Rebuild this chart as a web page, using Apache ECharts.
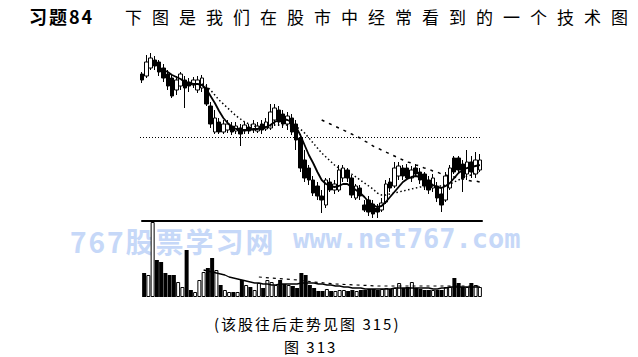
<!DOCTYPE html>
<html>
<head>
<meta charset="utf-8">
<script src="https://cdn.jsdelivr.net/npm/echarts@6/dist/echarts.min.js"></script>
<style>
  body { margin: 0; background: #fff; }
  #wrap { position: relative; width: 638px; height: 357px; overflow: hidden; }
  #chart { position: absolute; left: 0; top: 0; width: 638px; height: 357px; z-index: 2; }
  .t { position: absolute; white-space: nowrap; font-family: "Noto Sans CJK SC"; color: #000; }
  .wm { position: absolute; white-space: nowrap; color: #c6d8f8; font-weight: bold; z-index: 1; }
</style>
</head>
<body>
<div id="wrap">
  <div class="t" style="left:29px;top:3px;font-size:18px;font-weight:bold;letter-spacing:2px">习题84</div>
  <div class="t" style="left:125px;top:4px;font-size:17px;letter-spacing:10px">下图是我们在股市中经常看到的一个技术图</div>
  <div class="wm" style="left:70px;top:221px;font-size:28px;font-family:'Noto Sans CJK SC';letter-spacing:2px">767股票学习网</div>
  <div class="wm" style="left:293px;top:223px;font-size:27px;font-family:'DejaVu Sans Mono'">www.net767.com</div>
  <div class="t" style="left:214px;top:313px;font-size:15px;letter-spacing:2px">(该股往后走势见图 315)</div>
  <div class="t" style="left:284px;top:336px;font-size:15px;letter-spacing:2px">图 313</div>
  <div id="chart"></div>
</div>
<script>
// 日K线 (开, 收, 低, 高)
const opens = [18.1,17.9,18.7,19.5,19.3,18.7,18.1,17.7,16.5,16.9,
  17.5,17.3,17.0,16.5,16.7,16.7,14.9,12.3,13.3,12.3,
  12.5,12.9,12.4,12.7,12.4,12.8,12.5,12.4,13.1,12.6,
  12.7,13.5,14.5,14.1,13.1,13.7,13.1,11.7,9.5,8.7,
  7.5,6.9,5.9,5.0,7.3,6.5,6.5,7.7,8.5,7.7,
  5.7,6.7,5.0,5.5,5.1,4.7,4.5,5.3,7.3,6.9,
  7.9,8.7,8.7,7.7,8.7,8.3,8.1,7.5,6.7,6.9,
  6.1,5.5,6.7,9.7,9.7,9.1,8.1,9.3,8.1,8.5]
const closes = [17.5,19.3,19.7,18.9,18.3,17.7,16.9,15.9,17.5,18.1,
  16.7,16.9,17.5,17.5,17.7,15.1,13.1,13.7,12.3,13.1,
  13.1,12.3,12.9,12.1,13.0,12.4,13.1,12.9,12.5,13.3,
  14.3,14.7,13.3,13.1,13.9,12.3,11.5,8.7,7.7,7.5,
  6.2,5.9,5.5,7.5,6.5,7.1,8.5,8.7,7.7,6.0,
  6.9,5.9,4.5,4.3,4.1,4.3,5.2,7.1,6.7,8.7,
  8.9,7.9,7.7,8.5,8.1,7.5,6.9,6.5,7.7,5.7,
  5.0,7.9,8.7,8.3,8.5,7.7,9.3,8.3,9.5,9.5]
const lows = [17.2,17.7,18.5,18.5,17.9,17.3,16.5,15.7,16.0,16.5,
  14.7,16.3,16.7,16.2,16.3,14.9,12.7,12.1,12.1,12.1,
  12.2,12.0,12.1,10.9,12.1,12.1,12.2,12.2,12.1,12.4,
  12.5,12.9,12.9,12.7,12.5,12.0,10.5,8.3,7.3,7.0,
  5.9,5.5,4.2,4.7,6.3,6.1,6.3,7.3,7.3,5.7,
  5.5,5.5,4.3,3.9,3.7,3.7,4.3,5.1,6.3,6.7,
  7.5,7.5,7.5,7.3,7.9,7.1,6.5,6.1,6.3,5.3,
  4.3,5.3,6.5,8.1,8.1,6.3,7.5,7.7,7.7,8.3]
const highs = [18.3,20.0,20.2,19.9,19.5,19.1,18.5,18.0,17.9,18.3,
  17.9,17.7,17.8,17.9,18.0,17.1,15.3,14.5,13.7,13.5,
  13.5,13.3,13.3,13.1,13.3,13.1,13.5,13.3,13.5,13.7,
  15.1,15.1,14.9,14.5,14.3,14.1,13.5,12.1,10.5,9.0,
  7.9,7.3,6.5,7.7,7.7,7.5,9.0,9.0,8.7,8.0,
  7.1,7.0,5.5,5.9,5.5,5.1,5.7,7.5,7.7,9.3,
  9.3,9.0,9.1,8.9,9.1,8.7,8.3,7.9,8.1,7.3,
  6.7,8.3,9.0,9.9,9.9,9.5,10.5,9.9,10.3,10.1]

// 均线
const ma5 = [null,null,null,null,
  18.7,18.5,18.3,18.0,17.8,17.6,17.3,17.2,17.1,17.1,17.0,
  16.6,15.9,15.2,14.4,13.7,13.2,12.8,12.6,12.5,12.5,
  12.5,12.6,12.6,12.7,12.8,13.0,13.3,13.5,13.6,13.5,
  13.3,12.8,12.0,11.0,10.0,9.2,8.3,7.5,7.1,6.9,
  6.8,6.9,7.1,7.1,6.8,6.5,6.2,5.8,5.3,5.0,
  4.8,4.9,5.3,5.8,6.3,6.8,7.3,7.6,7.8,7.9,
  7.8,7.6,7.3,7.0,6.8,6.7,6.9,7.2,7.7,8.2,
  8.5,8.7,8.8,8.9,9.0]
const ma10 = [null,null,null,null,null,null,null,null,null,null,null,null,null,null,
  17.1,16.9,16.5,16.0,15.5,15.1,14.7,14.3,13.9,13.6,
  13.3,13.1,12.9,12.8,12.8,12.8,12.9,13.0,13.0,13.0,
  13.0,12.9,12.8,12.6,12.2,11.7,11.2,10.7,10.2,9.8,
  9.4,9.0,8.7,8.5,8.3,8.1,7.8,7.5,7.2,6.9,
  6.6,6.2,6.0,6.0,6.1,6.2,6.3,6.4,6.5,6.6,
  6.7,6.8,6.8,6.9,6.9,6.9,6.9,7.0,7.1,7.3,
  7.5,7.7,7.9,8.0,8.2,8.3]
const ma30 = [null,null,null,null,null,null,null,null,null,null,
  null,null,null,null,null,null,null,null,null,null,
  null,null,null,null,null,null,null,null,null,null,
  null,null,null,null,null,null,null,null,null,null,
  null,null,
  13.5,13.3,13.1,12.9,12.7,12.5,12.3,12.1,11.9,11.7,
  11.4,11.2,10.9,10.7,10.5,10.3,10.1,9.9,9.7,9.5,
  9.3,9.2,9.0,8.9,8.7,8.6,8.4,8.3,8.1,8.0,
  7.9,7.8,7.7,7.6,7.5,7.4,7.4,7.3]
const refLevel = 11.8

// 成交量
const volumes = [24,22,75,37,35,24,22,22,15,10,
  47,7,5,17,25,29,39,27,12,7,
  5,5,5,17,12,10,7,14,9,17,
  15,12,17,13,12,11,9,24,22,12,
  9,6,6,8,6,6,7,7,6,7,
  6,7,7,8,8,7,8,9,8,9,
  14,9,10,15,9,8,7,7,7,7,
  7,10,10,19,14,10,10,14,12,10]
const volMa = [null,null,null,null,null,null,null,null,null,null,null,null,null,null,
  27,26,25,24,23,22,20,19,18,17,
  16,15,14,14,13,13,12,12,13,13,
  13,13,13,14,14,14,14,13,13,12,
  12,11,11,10,10,9,9,9,8,8,
  8,8,8,8,8,9,9,9,9,9,
  9,9,9,9,8,8,9,9,10,10,
  10,10,10,10,10,10]
const volMaLong = [null,null,null,null,null,null,null,null,null,null,
  null,null,null,null,null,null,null,null,null,null,
  null,null,null,null,null,null,null,
  20,null,null,19,null,null,18,null,null,17,null,null,null,
  15,null,null,null,null,13,null,null,null,null,
  12,null,null,null,null,11,null,null,null,null,
  11,null,null,null,null,11,null,null,null,null,
  11,null,null,null,null,11,null,null,null,11]

const days = opens.map((_, i) => String(i + 1))

const chart = echarts.init(document.getElementById('chart'))

const option = {
  animation: false,
  grid: [
    { left: 140, right: 156, top: 45, bottom: 139 },
    { left: 142, right: 156, top: 221, bottom: 60 }
  ],
  xAxis: [
    { type: 'category', data: days, gridIndex: 0, show: false },
    {
      type: 'category', data: days, gridIndex: 1, position: 'top',
      axisLine: { show: true, onZero: false, lineStyle: { color: '#000', width: 2 } },
      axisTick: { show: false },
      axisLabel: { show: false }
    }
  ],
  yAxis: [
    { type: 'value', gridIndex: 0, min: 3.7, max: 21, show: false },
    { type: 'value', gridIndex: 1, min: 0, max: 76, show: false }
  ],
  series: [
    {
      type: 'candlestick',
      barWidth: 4,
      clip: false,
      data: opens.map((o, i) => [o, closes[i], lows[i], highs[i]]),
      itemStyle: {
        color: '#fff',
        color0: '#000',
        borderColor: '#000',
        borderColor0: '#000',
        borderWidth: 1
      },
      markLine: {
        silent: true,
        symbol: 'none',
        label: { show: false },
        lineStyle: { color: '#000', type: [1, 2], width: 1 },
        data: [{ yAxis: refLevel }]
      }
    },
    {
      type: 'line', data: ma5, showSymbol: false,
      lineStyle: { color: '#000', width: 1.8 }
    },
    {
      type: 'line', data: ma10, showSymbol: false,
      lineStyle: { color: '#000', width: 1.5, type: [1.5, 2.5] }
    },
    {
      type: 'line', data: ma30, showSymbol: false,
      lineStyle: { color: '#000', width: 1.5, type: [3, 5] }
    },
    {
      type: 'bar',
      xAxisIndex: 1,
      yAxisIndex: 1,
      barWidth: 4,
      data: volumes.map((v, i) => ({
        value: v,
        itemStyle: closes[i] >= opens[i]
          ? { color: '#fff', borderColor: '#000', borderWidth: 1 }
          : { color: '#000' }
      }))
    },
    {
      type: 'line', xAxisIndex: 1, yAxisIndex: 1, data: volMa, showSymbol: false,
      lineStyle: { color: '#000', width: 1.3 }
    },
    {
      type: 'line', xAxisIndex: 1, yAxisIndex: 1, data: volMaLong, showSymbol: false,
      connectNulls: true,
      lineStyle: { color: '#000', width: 1.2, type: [3, 4] }
    }
  ]
}

chart.setOption(option)
</script>
</body>
</html>
